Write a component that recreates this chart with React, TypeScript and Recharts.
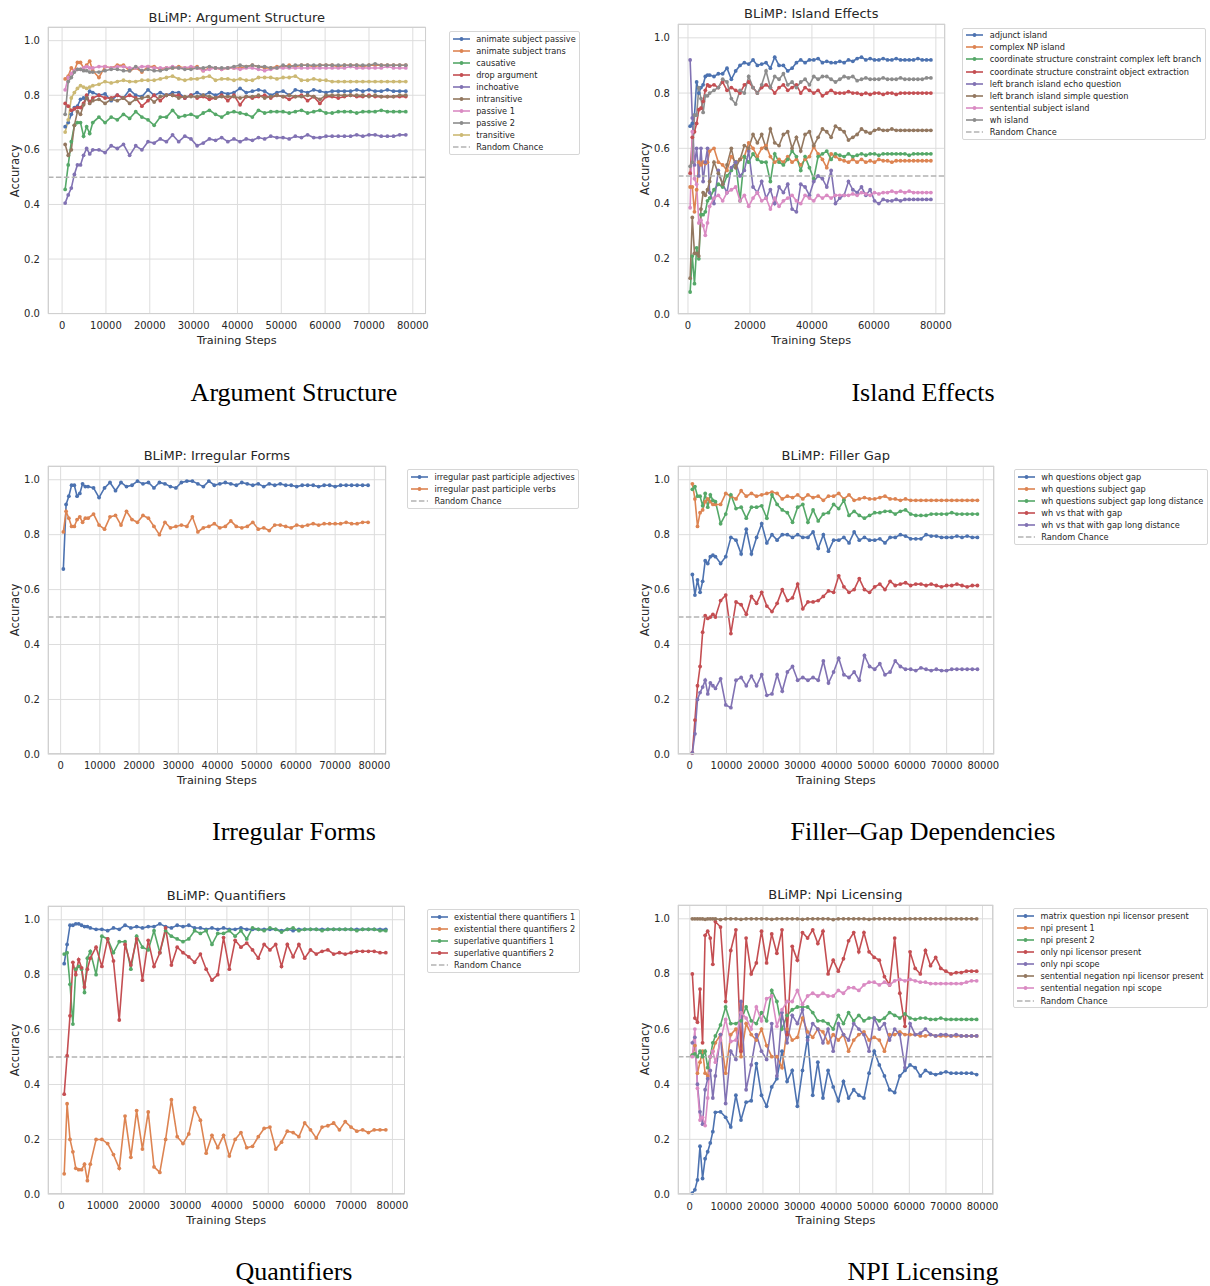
import { LineChart, Line, XAxis, YAxis, CartesianGrid, ReferenceLine } from 'recharts'

// checkpoints (training steps) shared by every panel
const STEPS = [
  700, 1400, 2100, 2800, 3500, 4200, 4900, 5600, 6300, 7000,
  8400, 9800, 11200, 12600, 14000, 15400, 16800, 18200, 19600, 21000,
  22400, 23800, 25200, 26600, 28000, 29400, 30800, 32200, 33600, 35000,
  36400, 37800, 39200, 40600, 42000, 43400, 44800, 46200, 47600, 49000,
  50400, 51800, 53200, 54600, 56000, 57400, 58800, 60200, 61600, 63000,
  64400, 65800, 67200, 68600, 70000, 71400, 72800, 74200, 75600, 77000,
  78400,
]

const Y_TICKS = [0, 0.2, 0.4, 0.6, 0.8, 1.0]
const X_TICKS_10K = [0, 10000, 20000, 30000, 40000, 50000, 60000, 70000, 80000]
const X_TICKS_20K = [0, 20000, 40000, 60000, 80000]

// --- Argument Structure
const animateSubjectPassive = [
  0.685, 0.70, 0.73, 0.755, 0.76, 0.785, 0.79, 0.79, 0.815, 0.81,
  0.80, 0.805, 0.78, 0.80, 0.79, 0.82, 0.80, 0.795, 0.82, 0.80,
  0.81, 0.80, 0.81, 0.81, 0.79, 0.80, 0.81, 0.80, 0.81, 0.80,
  0.81, 0.805, 0.81, 0.825, 0.81, 0.815, 0.82, 0.815, 0.80, 0.81,
  0.815, 0.80, 0.82, 0.815, 0.81, 0.82, 0.815, 0.81, 0.815, 0.815,
  0.815, 0.815, 0.82, 0.815, 0.82, 0.815, 0.815, 0.82, 0.815, 0.815,
  0.815,
]
const animateSubjectTrans = [
  0.86, 0.87, 0.90, 0.89, 0.92, 0.92, 0.90, 0.91, 0.925, 0.89,
  0.865, 0.905, 0.90, 0.91, 0.91, 0.89, 0.90, 0.885, 0.905, 0.905,
  0.895, 0.90, 0.90, 0.905, 0.90, 0.90, 0.905, 0.89, 0.90, 0.90,
  0.895, 0.90, 0.90, 0.90, 0.905, 0.91, 0.905, 0.90, 0.90, 0.905,
  0.905, 0.91, 0.905, 0.91, 0.91, 0.905, 0.91, 0.91, 0.91, 0.905,
  0.91, 0.91, 0.91, 0.905, 0.91, 0.91, 0.91, 0.91, 0.91, 0.91,
  0.91,
]
const causative = [
  0.455, 0.545, 0.63, 0.69, 0.70, 0.70, 0.65, 0.685, 0.66, 0.70,
  0.72, 0.70, 0.72, 0.71, 0.73, 0.715, 0.74, 0.72, 0.71, 0.69,
  0.72, 0.72, 0.745, 0.72, 0.725, 0.73, 0.72, 0.735, 0.745, 0.73,
  0.72, 0.735, 0.74, 0.735, 0.73, 0.72, 0.745, 0.735, 0.74, 0.74,
  0.74, 0.735, 0.74, 0.745, 0.735, 0.74, 0.745, 0.735, 0.735, 0.74,
  0.74, 0.74, 0.735, 0.74, 0.74, 0.74, 0.745, 0.74, 0.74, 0.74,
  0.74,
]
const dropArgument = [
  0.77, 0.76, 0.745, 0.75, 0.755, 0.755, 0.77, 0.80, 0.775, 0.79,
  0.80, 0.79, 0.79, 0.80, 0.79, 0.80, 0.79, 0.76, 0.78, 0.80,
  0.78, 0.80, 0.80, 0.80, 0.79, 0.80, 0.79, 0.795, 0.785, 0.79,
  0.80, 0.78, 0.80, 0.765, 0.795, 0.79, 0.795, 0.80, 0.79, 0.80,
  0.795, 0.785, 0.795, 0.80, 0.78, 0.795, 0.77, 0.795, 0.795, 0.79,
  0.795, 0.80, 0.795, 0.795, 0.80, 0.795, 0.795, 0.795, 0.795, 0.795,
  0.795,
]
const inchoative = [
  0.405, 0.435, 0.46, 0.51, 0.545, 0.545, 0.58, 0.605, 0.585, 0.60,
  0.60, 0.59, 0.615, 0.605, 0.62, 0.58, 0.615, 0.60, 0.63, 0.625,
  0.64, 0.63, 0.655, 0.63, 0.65, 0.64, 0.615, 0.625, 0.64, 0.635,
  0.645, 0.63, 0.64, 0.63, 0.64, 0.635, 0.645, 0.64, 0.65, 0.645,
  0.645, 0.64, 0.65, 0.645, 0.655, 0.645, 0.645, 0.65, 0.65, 0.65,
  0.65, 0.65, 0.655, 0.65, 0.655, 0.655, 0.65, 0.65, 0.65, 0.655,
  0.655,
]
const intransitive = [
  0.62, 0.58, 0.60, 0.69, 0.74, 0.73, 0.765, 0.79, 0.77, 0.78,
  0.785, 0.77, 0.785, 0.78, 0.79, 0.77, 0.785, 0.79, 0.795, 0.775,
  0.795, 0.80, 0.80, 0.79, 0.795, 0.795, 0.795, 0.80, 0.795, 0.79,
  0.795, 0.795, 0.795, 0.79, 0.795, 0.795, 0.80, 0.79, 0.795, 0.80,
  0.795, 0.80, 0.795, 0.795, 0.80, 0.795, 0.785, 0.80, 0.80, 0.80,
  0.80, 0.80, 0.80, 0.80, 0.795, 0.80, 0.795, 0.795, 0.795, 0.80,
  0.80,
]
const passive1 = [
  0.82, 0.865, 0.88, 0.89, 0.895, 0.895, 0.90, 0.905, 0.90, 0.90,
  0.905, 0.905, 0.90, 0.905, 0.905, 0.90, 0.90, 0.905, 0.905, 0.90,
  0.90, 0.90, 0.905, 0.90, 0.90, 0.905, 0.90, 0.89, 0.895, 0.90,
  0.895, 0.90, 0.90, 0.895, 0.90, 0.90, 0.895, 0.89, 0.895, 0.90,
  0.90, 0.90, 0.90, 0.90, 0.90, 0.90, 0.90, 0.90, 0.90, 0.90,
  0.90, 0.905, 0.90, 0.90, 0.90, 0.90, 0.90, 0.905, 0.90, 0.90,
  0.90,
]
const passive2 = [
  0.73, 0.85, 0.865, 0.885, 0.895, 0.895, 0.89, 0.89, 0.885, 0.885,
  0.885, 0.89, 0.895, 0.895, 0.89, 0.89, 0.905, 0.89, 0.895, 0.89,
  0.89, 0.895, 0.90, 0.90, 0.895, 0.895, 0.90, 0.90, 0.905, 0.90,
  0.90, 0.90, 0.905, 0.91, 0.905, 0.91, 0.905, 0.905, 0.90, 0.90,
  0.91, 0.905, 0.91, 0.91, 0.91, 0.91, 0.91, 0.91, 0.91, 0.91,
  0.91, 0.91, 0.91, 0.91, 0.91, 0.915, 0.91, 0.91, 0.91, 0.91,
  0.91,
]
const transitive = [
  0.665, 0.71, 0.79, 0.81, 0.825, 0.835, 0.83, 0.825, 0.83, 0.835,
  0.84, 0.85, 0.845, 0.85, 0.855, 0.85, 0.85, 0.855, 0.855, 0.855,
  0.86, 0.865, 0.87, 0.86, 0.855, 0.86, 0.86, 0.865, 0.87, 0.855,
  0.86, 0.86, 0.855, 0.86, 0.855, 0.855, 0.865, 0.865, 0.865, 0.86,
  0.865, 0.865, 0.87, 0.855, 0.855, 0.86, 0.855, 0.855, 0.85, 0.85,
  0.85, 0.85, 0.85, 0.85, 0.85, 0.85, 0.85, 0.85, 0.85, 0.85,
  0.85,
]

// --- Island Effects
const adjunctIsland = [
  0.68, 0.69, 0.72, 0.84, 0.80, 0.82, 0.83, 0.86, 0.865, 0.865,
  0.86, 0.87, 0.87, 0.89, 0.85, 0.88, 0.90, 0.91, 0.905, 0.92,
  0.90, 0.905, 0.91, 0.89, 0.93, 0.90, 0.90, 0.88, 0.89, 0.91,
  0.92, 0.91, 0.92, 0.92, 0.925, 0.91, 0.915, 0.91, 0.91, 0.915,
  0.91, 0.92, 0.915, 0.925, 0.93, 0.92, 0.925, 0.92, 0.92, 0.925,
  0.92, 0.92, 0.925, 0.92, 0.92, 0.92, 0.92, 0.925, 0.92, 0.92,
  0.92,
]
const complexNpIsland = [
  0.46, 0.46, 0.37, 0.45, 0.55, 0.54, 0.55, 0.545, 0.55, 0.59,
  0.60, 0.55, 0.54, 0.52, 0.57, 0.55, 0.56, 0.57, 0.62, 0.60,
  0.57, 0.60, 0.61, 0.57, 0.55, 0.56, 0.55, 0.57, 0.55, 0.56,
  0.54, 0.56, 0.57, 0.605, 0.58, 0.56, 0.53, 0.58, 0.57, 0.56,
  0.555, 0.55, 0.56, 0.55, 0.56, 0.55, 0.555, 0.55, 0.56, 0.555,
  0.555, 0.55, 0.555, 0.555, 0.555, 0.555, 0.555, 0.555, 0.555, 0.555,
  0.555,
]
const cscComplexLeftBranch = [
  0.08, 0.21, 0.11, 0.24, 0.20, 0.36, 0.36, 0.37, 0.41, 0.42,
  0.45, 0.47, 0.46, 0.50, 0.52, 0.55, 0.41, 0.57, 0.55, 0.58,
  0.56, 0.55, 0.55, 0.48, 0.58, 0.55, 0.54, 0.56, 0.59, 0.57,
  0.52, 0.57, 0.53, 0.49, 0.57, 0.58, 0.59, 0.56, 0.58, 0.575,
  0.57, 0.58, 0.57, 0.575, 0.58, 0.575, 0.58, 0.58, 0.575, 0.58,
  0.58, 0.58, 0.58, 0.58, 0.58, 0.575, 0.58, 0.58, 0.58, 0.58,
  0.58,
]
const cscObjectExtraction = [
  0.51, 0.64, 0.66, 0.69, 0.74, 0.745, 0.77, 0.81, 0.83, 0.825,
  0.83, 0.82, 0.84, 0.81, 0.82, 0.81, 0.80, 0.83, 0.84, 0.82,
  0.80, 0.82, 0.83, 0.82, 0.80, 0.82, 0.83, 0.81, 0.82, 0.83,
  0.80, 0.82, 0.81, 0.80, 0.81, 0.79, 0.80, 0.81, 0.80, 0.80,
  0.80, 0.805, 0.80, 0.80, 0.795, 0.80, 0.795, 0.80, 0.80, 0.795,
  0.80, 0.80, 0.795, 0.80, 0.80, 0.80, 0.80, 0.80, 0.80, 0.80,
  0.80,
]
const leftBranchEcho = [
  0.92, 0.71, 0.54, 0.60, 0.50, 0.60, 0.48, 0.55, 0.60, 0.44,
  0.40, 0.52, 0.47, 0.44, 0.53, 0.55, 0.50, 0.52, 0.59, 0.46,
  0.44, 0.48, 0.42, 0.45, 0.40, 0.46, 0.44, 0.47, 0.38, 0.37,
  0.47, 0.46, 0.43, 0.48, 0.50, 0.49, 0.46, 0.52, 0.40, 0.42,
  0.43, 0.48, 0.45, 0.44, 0.46, 0.43, 0.45, 0.41, 0.40, 0.415,
  0.41, 0.41, 0.415, 0.41, 0.415, 0.415, 0.415, 0.415, 0.415, 0.415,
  0.415,
]
const leftBranchSimple = [
  0.13, 0.35, 0.22, 0.22, 0.21, 0.38, 0.44, 0.43, 0.45, 0.48,
  0.55, 0.51, 0.47, 0.54, 0.60, 0.53, 0.56, 0.61, 0.60, 0.65,
  0.62, 0.65, 0.60, 0.67, 0.62, 0.61, 0.65, 0.66, 0.60, 0.64,
  0.59, 0.65, 0.66, 0.61, 0.64, 0.67, 0.66, 0.64, 0.68, 0.67,
  0.66, 0.63, 0.64, 0.65, 0.67, 0.66, 0.655, 0.665, 0.67, 0.665,
  0.665, 0.67, 0.665, 0.665, 0.665, 0.665, 0.665, 0.665, 0.665, 0.665,
  0.665,
]
const sententialSubjectIsland = [
  0.385, 0.66, 0.49, 0.47, 0.33, 0.34, 0.32, 0.285, 0.33, 0.39,
  0.42, 0.43, 0.41, 0.44, 0.45, 0.46, 0.41, 0.43, 0.39, 0.42,
  0.44, 0.41, 0.42, 0.38, 0.42, 0.39, 0.41, 0.42, 0.43, 0.41,
  0.40, 0.43, 0.42, 0.41, 0.43, 0.42, 0.43, 0.42, 0.43, 0.43,
  0.43, 0.43, 0.435, 0.43, 0.44, 0.435, 0.43, 0.44, 0.435, 0.44,
  0.44, 0.445, 0.44, 0.445, 0.44, 0.445, 0.44, 0.44, 0.44, 0.44,
  0.44,
]
const whIsland = [
  0.535, 0.55, 0.72, 0.72, 0.82, 0.78, 0.73, 0.79, 0.79, 0.80,
  0.81, 0.82, 0.85, 0.84, 0.78, 0.76, 0.81, 0.80, 0.86, 0.82,
  0.80, 0.83, 0.88, 0.82, 0.86, 0.85, 0.87, 0.83, 0.84, 0.82,
  0.84, 0.85, 0.83, 0.86, 0.85, 0.86, 0.86, 0.85, 0.84, 0.85,
  0.86, 0.855, 0.86, 0.845, 0.85, 0.855, 0.85, 0.85, 0.85, 0.855,
  0.85, 0.85, 0.85, 0.855, 0.85, 0.85, 0.85, 0.85, 0.85, 0.855,
  0.855,
]

// --- Irregular Forms
const irregularAdjectives = [
  0.675, 0.91, 0.94, 0.98, 0.98, 0.94, 0.95, 0.985, 0.975, 0.975,
  0.97, 0.935, 0.97, 0.99, 0.96, 0.99, 0.975, 0.98, 0.995, 0.985,
  0.99, 0.97, 0.99, 0.985, 0.975, 0.97, 0.99, 0.995, 0.995, 0.985,
  0.975, 0.995, 0.98, 0.985, 0.99, 0.985, 0.98, 0.99, 0.985, 0.98,
  0.985, 0.975, 0.985, 0.98, 0.985, 0.98, 0.98, 0.975, 0.98, 0.98,
  0.98, 0.975, 0.98, 0.98, 0.975, 0.98, 0.98, 0.98, 0.98, 0.98,
  0.98,
]
const irregularVerbs = [
  0.81, 0.885, 0.86, 0.83, 0.83, 0.855, 0.865, 0.845, 0.86, 0.86,
  0.875, 0.835, 0.82, 0.865, 0.87, 0.835, 0.885, 0.855, 0.845, 0.87,
  0.86, 0.83, 0.80, 0.845, 0.825, 0.83, 0.835, 0.83, 0.865, 0.81,
  0.825, 0.83, 0.84, 0.825, 0.83, 0.85, 0.83, 0.825, 0.83, 0.845,
  0.82, 0.825, 0.815, 0.835, 0.835, 0.83, 0.825, 0.835, 0.83, 0.835,
  0.84, 0.835, 0.84, 0.84, 0.84, 0.84, 0.845, 0.84, 0.84, 0.845,
  0.845,
]

// --- Filler Gap
const whObjectGap = [
  0.655, 0.58, 0.635, 0.59, 0.63, 0.705, 0.695, 0.72, 0.725, 0.72,
  0.695, 0.72, 0.79, 0.78, 0.73, 0.82, 0.73, 0.79, 0.84, 0.77,
  0.80, 0.78, 0.80, 0.80, 0.79, 0.80, 0.79, 0.79, 0.81, 0.75,
  0.80, 0.74, 0.78, 0.78, 0.79, 0.77, 0.81, 0.78, 0.79, 0.78,
  0.78, 0.785, 0.77, 0.79, 0.79, 0.80, 0.795, 0.785, 0.785, 0.785,
  0.80, 0.795, 0.795, 0.79, 0.79, 0.79, 0.795, 0.79, 0.795, 0.79,
  0.79,
]
const whSubjectGap = [
  0.985, 0.93, 0.83, 0.88, 0.89, 0.92, 0.93, 0.92, 0.91, 0.91,
  0.91, 0.95, 0.94, 0.93, 0.96, 0.94, 0.95, 0.94, 0.945, 0.95,
  0.955, 0.95, 0.93, 0.94, 0.935, 0.945, 0.93, 0.945, 0.935, 0.94,
  0.925, 0.94, 0.94, 0.95, 0.93, 0.945, 0.925, 0.93, 0.935, 0.93,
  0.93, 0.935, 0.94, 0.93, 0.93, 0.925, 0.93, 0.925, 0.925, 0.925,
  0.925, 0.925, 0.925, 0.925, 0.925, 0.925, 0.925, 0.925, 0.925, 0.925,
  0.925,
]
const whSubjectGapLong = [
  0.965, 0.975, 0.94, 0.94, 0.905, 0.95, 0.90, 0.945, 0.925, 0.92,
  0.84, 0.875, 0.945, 0.895, 0.90, 0.86, 0.90, 0.90, 0.905, 0.86,
  0.945, 0.91, 0.89, 0.88, 0.845, 0.90, 0.91, 0.845, 0.89, 0.85,
  0.875, 0.88, 0.91, 0.895, 0.925, 0.87, 0.885, 0.87, 0.86, 0.87,
  0.88, 0.88, 0.885, 0.885, 0.875, 0.885, 0.89, 0.875, 0.87, 0.87,
  0.87, 0.875, 0.875, 0.875, 0.875, 0.88, 0.875, 0.875, 0.875, 0.875,
  0.875,
]
const whVsThatGap = [
  0.005, 0.125, 0.25, 0.32, 0.445, 0.505, 0.495, 0.50, 0.51, 0.50,
  0.56, 0.58, 0.44, 0.555, 0.545, 0.51, 0.575, 0.55, 0.59, 0.54,
  0.52, 0.55, 0.60, 0.56, 0.57, 0.62, 0.53, 0.555, 0.555, 0.56,
  0.575, 0.595, 0.59, 0.65, 0.61, 0.59, 0.60, 0.64, 0.60, 0.59,
  0.61, 0.62, 0.60, 0.63, 0.615, 0.62, 0.625, 0.615, 0.62, 0.62,
  0.615, 0.62, 0.615, 0.61, 0.615, 0.615, 0.62, 0.615, 0.61, 0.615,
  0.615,
]
const whVsThatGapLong = [
  0.005, 0.075, 0.20, 0.225, 0.245, 0.27, 0.22, 0.26, 0.25, 0.24,
  0.275, 0.18, 0.17, 0.27, 0.28, 0.25, 0.285, 0.25, 0.29, 0.215,
  0.22, 0.29, 0.23, 0.30, 0.32, 0.27, 0.28, 0.27, 0.28, 0.27,
  0.34, 0.26, 0.30, 0.35, 0.29, 0.28, 0.30, 0.27, 0.36, 0.32,
  0.31, 0.33, 0.29, 0.30, 0.34, 0.32, 0.31, 0.31, 0.305, 0.315,
  0.31, 0.305, 0.31, 0.305, 0.305, 0.31, 0.31, 0.31, 0.31, 0.31,
  0.31,
]

// --- Quantifiers
const existential1 = [
  0.84, 0.91, 0.98, 0.98, 0.985, 0.985, 0.98, 0.975, 0.975, 0.97,
  0.965, 0.965, 0.96, 0.97, 0.965, 0.98, 0.97, 0.975, 0.97, 0.975,
  0.975, 0.985, 0.975, 0.97, 0.98, 0.975, 0.98, 0.97, 0.97, 0.965,
  0.97, 0.965, 0.97, 0.965, 0.965, 0.97, 0.965, 0.965, 0.965, 0.965,
  0.965, 0.965, 0.96, 0.965, 0.96, 0.965, 0.965, 0.965, 0.965, 0.965,
  0.965, 0.965, 0.965, 0.965, 0.965, 0.965, 0.965, 0.965, 0.965, 0.965,
  0.965,
]
const existential2 = [
  0.075, 0.33, 0.20, 0.155, 0.095, 0.09, 0.09, 0.11, 0.05, 0.11,
  0.20, 0.20, 0.185, 0.145, 0.095, 0.285, 0.135, 0.305, 0.165, 0.30,
  0.10, 0.08, 0.20, 0.345, 0.21, 0.185, 0.22, 0.315, 0.27, 0.15,
  0.215, 0.17, 0.215, 0.14, 0.20, 0.225, 0.17, 0.175, 0.21, 0.24,
  0.245, 0.165, 0.19, 0.23, 0.225, 0.21, 0.26, 0.235, 0.205, 0.245,
  0.25, 0.26, 0.235, 0.265, 0.245, 0.23, 0.235, 0.225, 0.235, 0.235,
  0.235,
]
const superlative1 = [
  0.875, 0.88, 0.765, 0.62, 0.82, 0.83, 0.82, 0.735, 0.86, 0.885,
  0.80, 0.94, 0.93, 0.88, 0.92, 0.92, 0.82, 0.94, 0.90, 0.89,
  0.96, 0.88, 0.96, 0.94, 0.93, 0.92, 0.93, 0.96, 0.95, 0.96,
  0.91, 0.95, 0.95, 0.96, 0.94, 0.96, 0.93, 0.97, 0.965, 0.96,
  0.97, 0.965, 0.955, 0.965, 0.97, 0.96, 0.965, 0.965, 0.965, 0.96,
  0.965, 0.965, 0.965, 0.965, 0.965, 0.96, 0.965, 0.965, 0.965, 0.96,
  0.96,
]
const superlative2 = [
  0.365, 0.505, 0.65, 0.845, 0.80, 0.855, 0.825, 0.755, 0.82, 0.86,
  0.90, 0.83, 0.93, 0.85, 0.635, 0.91, 0.835, 0.93, 0.78, 0.925,
  0.83, 0.88, 0.97, 0.835, 0.90, 0.88, 0.865, 0.845, 0.875, 0.82,
  0.78, 0.80, 0.935, 0.82, 0.925, 0.90, 0.915, 0.89, 0.86, 0.91,
  0.89, 0.91, 0.83, 0.91, 0.865, 0.91, 0.86, 0.89, 0.875, 0.885,
  0.89, 0.875, 0.88, 0.875, 0.88, 0.885, 0.885, 0.885, 0.885, 0.88,
  0.88,
]

// --- Npi Licensing
const matrixQuestion = [
  0.005, 0.017, 0.053, 0.175, 0.058, 0.13, 0.155, 0.187, 0.228, 0.298,
  0.30, 0.28, 0.245, 0.36, 0.27, 0.335, 0.34, 0.475, 0.36, 0.32,
  0.39, 0.42, 0.52, 0.41, 0.45, 0.32, 0.45, 0.57, 0.36, 0.48,
  0.35, 0.45, 0.39, 0.34, 0.41, 0.35, 0.38, 0.36, 0.35, 0.44,
  0.52, 0.47, 0.43, 0.38, 0.37, 0.43, 0.45, 0.47, 0.46, 0.43,
  0.45, 0.44, 0.435, 0.44, 0.445, 0.44, 0.44, 0.44, 0.44, 0.44,
  0.435,
]
const npiPresent1 = [
  0.505, 0.54, 0.44, 0.48, 0.52, 0.44, 0.43, 0.50, 0.52, 0.55,
  0.58, 0.44, 0.58, 0.60, 0.50, 0.62, 0.58, 0.56, 0.60, 0.54,
  0.50, 0.50, 0.46, 0.60, 0.56, 0.57, 0.64, 0.59, 0.57, 0.60,
  0.59, 0.55, 0.58, 0.56, 0.58, 0.52, 0.56, 0.58, 0.59, 0.56,
  0.57, 0.56, 0.52, 0.58, 0.58, 0.59, 0.58, 0.58, 0.58, 0.575,
  0.575, 0.58, 0.575, 0.575, 0.575, 0.575, 0.575, 0.575, 0.575, 0.575,
  0.575,
]
const npiPresent2 = [
  0.505, 0.51, 0.50, 0.52, 0.50, 0.52, 0.46, 0.50, 0.55, 0.575,
  0.615, 0.68, 0.62, 0.62, 0.63, 0.68, 0.63, 0.62, 0.66, 0.63,
  0.74, 0.70, 0.60, 0.65, 0.67, 0.68, 0.68, 0.68, 0.66, 0.63,
  0.63, 0.62, 0.60, 0.65, 0.62, 0.66, 0.63, 0.65, 0.63, 0.64,
  0.64, 0.63, 0.64, 0.66, 0.65, 0.64, 0.655, 0.64, 0.635, 0.64,
  0.64, 0.635, 0.635, 0.64, 0.635, 0.635, 0.635, 0.635, 0.635, 0.635,
  0.635,
]
const onlyLicensorPresent = [
  0.80, 0.64, 0.625, 0.745, 0.55, 0.94, 0.955, 0.93, 0.835, 0.99,
  0.97, 0.70, 0.885, 0.96, 0.52, 0.93, 0.80, 0.84, 0.955, 0.84,
  0.945, 0.875, 0.96, 0.58, 0.90, 0.85, 0.95, 0.93, 0.96, 0.91,
  0.955, 0.80, 0.85, 0.81, 0.855, 0.92, 0.95, 0.88, 0.95, 0.88,
  0.86, 0.85, 0.79, 0.76, 0.93, 0.73, 0.61, 0.88, 0.82, 0.80,
  0.885, 0.83, 0.86, 0.82, 0.81, 0.80, 0.805, 0.805, 0.81, 0.81,
  0.81,
]
const onlyNpiScope = [
  0.55, 0.57, 0.40, 0.30, 0.255, 0.38, 0.42, 0.45, 0.35, 0.43,
  0.58, 0.33, 0.52, 0.49, 0.70, 0.38, 0.47, 0.58, 0.52, 0.49,
  0.62, 0.43, 0.66, 0.55, 0.65, 0.62, 0.67, 0.56, 0.62, 0.60,
  0.55, 0.60, 0.52, 0.62, 0.58, 0.56, 0.62, 0.60, 0.58, 0.52,
  0.64, 0.60, 0.62, 0.56, 0.60, 0.58, 0.46, 0.62, 0.58, 0.585,
  0.60, 0.58, 0.575, 0.58, 0.58, 0.575, 0.58, 0.575, 0.575, 0.575,
  0.575,
]
const negationLicensorPresent = [
  1.0, 1.0, 1.0, 1.0, 1.0, 0.998, 1.0, 1.0, 1.0, 1.0,
  0.997, 1.0, 1.0, 1.0, 0.998, 1.0, 1.0, 1.0, 1.0, 1.0,
  0.998, 1.0, 1.0, 1.0, 1.0, 1.0, 0.998, 1.0, 1.0, 1.0,
  1.0, 1.0, 0.997, 1.0, 1.0, 1.0, 1.0, 1.0, 1.0, 0.998,
  1.0, 1.0, 1.0, 1.0, 1.0, 0.999, 1.0, 1.0, 1.0, 1.0,
  1.0, 1.0, 1.0, 1.0, 1.0, 1.0, 1.0, 1.0, 1.0, 1.0,
  1.0,
]
const negationNpiScope = [
  0.50, 0.60, 0.385, 0.27, 0.28, 0.25, 0.35, 0.50, 0.52, 0.48,
  0.56, 0.635, 0.555, 0.56, 0.66, 0.64, 0.60, 0.68, 0.63, 0.71,
  0.72, 0.61, 0.67, 0.70, 0.70, 0.74, 0.69, 0.72, 0.73, 0.72,
  0.73, 0.72, 0.72, 0.74, 0.73, 0.75, 0.75, 0.74, 0.76, 0.77,
  0.77, 0.76, 0.77, 0.76, 0.775, 0.78, 0.775, 0.78, 0.775, 0.77,
  0.77, 0.765, 0.765, 0.765, 0.765, 0.765, 0.765, 0.765, 0.77, 0.775,
  0.775,
]

// seaborn "deep"
const COLORS = ['#4C72B0', '#DD8452', '#55A868', '#C44E52', '#8172B3', '#937860', '#DA8BC3', '#8C8C8C', '#CCB974']

const SANS = '"DejaVu Sans", sans-serif'
const TEXT = '#262626'
const GRID = '#dddddd'
const CHANCE = '#b3b3b3'

type Series = { name: string; values: number[] }
type Frame = { l: number; t: number; r: number; b: number }

const panels: { title: string; caption: string; xTicks: number[]; frame: Frame; captionY: number; series: Series[] }[] = [
  {
    title: 'BLiMP: Argument Structure', caption: 'Argument Structure', xTicks: X_TICKS_10K,
    frame: { l: 48, t: 27.3, r: 425.6, b: 314 }, captionY: 393,
    series: [
      { name: 'animate subject passive', values: animateSubjectPassive },
      { name: 'animate subject trans', values: animateSubjectTrans },
      { name: 'causative', values: causative },
      { name: 'drop argument', values: dropArgument },
      { name: 'inchoative', values: inchoative },
      { name: 'intransitive', values: intransitive },
      { name: 'passive 1', values: passive1 },
      { name: 'passive 2', values: passive2 },
      { name: 'transitive', values: transitive },
    ],
  },
  {
    title: 'BLiMP: Island Effects', caption: 'Island Effects', xTicks: X_TICKS_20K,
    frame: { l: 677.8, t: 23.9, r: 944.7, b: 314 }, captionY: 393,
    series: [
      { name: 'adjunct island', values: adjunctIsland },
      { name: 'complex NP island', values: complexNpIsland },
      { name: 'coordinate structure constraint complex left branch', values: cscComplexLeftBranch },
      { name: 'coordinate structure constraint object extraction', values: cscObjectExtraction },
      { name: 'left branch island echo question', values: leftBranchEcho },
      { name: 'left branch island simple question', values: leftBranchSimple },
      { name: 'sentential subject island', values: sententialSubjectIsland },
      { name: 'wh island', values: whIsland },
    ],
  },
  {
    title: 'BLiMP: Irregular Forms', caption: 'Irregular Forms', xTicks: X_TICKS_10K,
    frame: { l: 48, t: 465.6, r: 385.8, b: 754 }, captionY: 832,
    series: [
      { name: 'irregular past participle adjectives', values: irregularAdjectives },
      { name: 'irregular past participle verbs', values: irregularVerbs },
    ],
  },
  {
    title: 'BLiMP: Filler Gap', caption: 'Filler–Gap Dependencies', xTicks: X_TICKS_10K,
    frame: { l: 677.8, t: 465.6, r: 993.8, b: 754 }, captionY: 832,
    series: [
      { name: 'wh questions object gap', values: whObjectGap },
      { name: 'wh questions subject gap', values: whSubjectGap },
      { name: 'wh questions subject gap long distance', values: whSubjectGapLong },
      { name: 'wh vs that with gap', values: whVsThatGap },
      { name: 'wh vs that with gap long distance', values: whVsThatGapLong },
    ],
  },
  {
    title: 'BLiMP: Quantifiers', caption: 'Quantifiers', xTicks: X_TICKS_10K,
    frame: { l: 48, t: 905.6, r: 404.5, b: 1194 }, captionY: 1272,
    series: [
      { name: 'existential there quantifiers 1', values: existential1 },
      { name: 'existential there quantifiers 2', values: existential2 },
      { name: 'superlative quantifiers 1', values: superlative1 },
      { name: 'superlative quantifiers 2', values: superlative2 },
    ],
  },
  {
    title: 'BLiMP: Npi Licensing', caption: 'NPI Licensing', xTicks: X_TICKS_10K,
    frame: { l: 677.8, t: 904.5, r: 993, b: 1194 }, captionY: 1272,
    series: [
      { name: 'matrix question npi licensor present', values: matrixQuestion },
      { name: 'npi present 1', values: npiPresent1 },
      { name: 'npi present 2', values: npiPresent2 },
      { name: 'only npi licensor present', values: onlyLicensorPresent },
      { name: 'only npi scope', values: onlyNpiScope },
      { name: 'sentential negation npi licensor present', values: negationLicensorPresent },
      { name: 'sentential negation npi scope', values: negationNpiScope },
    ],
  },
]

const PAD_L = 45
const PAD_R = 10
const PAD_T = 30
const PAD_B = 45

function LegendBox({ series, left, top }: { series: Series[]; left: number; top: number }) {
  const row = (key: string, label: string, sample: JSX.Element) => (
    <div key={key} style={{ display: 'flex', alignItems: 'center', height: 12.1 }}>
      <svg width={17} height={12} style={{ marginLeft: 3, marginRight: 6.5, flex: 'none' }}>{sample}</svg>
      <span>{label}</span>
    </div>
  )
  return (
    <div style={{
      position: 'absolute', left, top, background: '#fff', border: '0.8px solid #d6d6d6', borderRadius: 2,
      padding: '0.5px 3.5px 0.5px 0', fontFamily: SANS, fontSize: 8.2, color: TEXT, whiteSpace: 'nowrap',
    }}>
      {series.map((s, i) => row(s.name, s.name, (
        <g>
          <line x1={0} x2={17} y1={6} y2={6} stroke={COLORS[i]} strokeWidth={1.6} />
          <circle cx={8.5} cy={6} r={1.9} fill={COLORS[i]} />
        </g>
      )))}
      {row('chance', 'Random Chance', <line x1={0} x2={17} y1={6} y2={6} stroke={CHANCE} strokeWidth={1.5} strokeDasharray="5.5 2.4" />)}
    </div>
  )
}

function Panel({ title, caption, xTicks, frame, captionY, series }: typeof panels[number]) {
  const { l, t, r, b } = frame
  const w = r - l
  const h = b - t
  const rows = STEPS.map((step, i) => {
    const row: Record<string, number> = { step }
    series.forEach((s, k) => { row['s' + k] = s.values[i] })
    return row
  })
  const colCenter = l < 600 ? 294 : 923

  return (
    <>
      <div style={{ position: 'absolute', left: l, top: t - 17.5, width: w, height: 15, lineHeight: '15px', textAlign: 'center', fontFamily: SANS, fontSize: 13, color: TEXT }}>
        {title}
      </div>
      <div style={{ position: 'absolute', left: l - PAD_L, top: t - PAD_T }}>
        <LineChart width={w + PAD_L + PAD_R} height={h + PAD_T + PAD_B} data={rows} margin={{ top: PAD_T, right: PAD_R, left: 0, bottom: 0 }}>
          <CartesianGrid stroke={GRID} strokeWidth={1} />
          <XAxis
            dataKey="step" type="number" domain={[-3215, 82915]} ticks={xTicks} interval={0}
            allowDataOverflow axisLine={false} tickLine={false} tickSize={0} tickMargin={8} height={PAD_B}
            tick={{ fontSize: 10, fill: TEXT, fontFamily: SANS }}
          />
          <YAxis
            type="number" domain={[0, 1.05]} ticks={Y_TICKS} interval={0} allowDataOverflow
            tickFormatter={(v: number) => v.toFixed(1)}
            axisLine={false} tickLine={false} tickSize={0} tickMargin={8} width={PAD_L}
            tick={{ fontSize: 10, fill: TEXT, fontFamily: SANS }}
          />
          {series.map((s, k) => (
            <Line
              key={s.name} type="linear" dataKey={'s' + k} stroke={COLORS[k]} strokeWidth={1.6}
              dot={{ r: 1.9, fill: COLORS[k], stroke: COLORS[k], strokeWidth: 0 }}
              activeDot={false} isAnimationActive={false}
            />
          ))}
          <ReferenceLine y={0.5} stroke={CHANCE} strokeWidth={1.5} strokeDasharray="5.5 2.4" />
        </LineChart>
      </div>
      <div style={{ position: 'absolute', left: l, top: t, width: w, height: h, boxSizing: 'border-box', border: '1.25px solid #d0d0d0', pointerEvents: 'none' }} />
      <div style={{ position: 'absolute', left: l, top: b + 19.5, width: w, lineHeight: '13px', textAlign: 'center', fontFamily: SANS, fontSize: 11.3, color: TEXT }}>
        Training Steps
      </div>
      <div style={{
        position: 'absolute', left: l - 33 - 50, top: (t + b) / 2 - 7, width: 100, lineHeight: '14px', textAlign: 'center',
        transform: 'rotate(-90deg)', fontFamily: SANS, fontSize: 11.5, color: TEXT,
      }}>
        Accuracy
      </div>
      <LegendBox series={series} left={r + 0.05 * w + 4.2} top={t + 3.8} />
      <div style={{ position: 'absolute', left: colCenter - 250, top: captionY - 16, width: 500, lineHeight: '32px', textAlign: 'center', fontFamily: '"Liberation Serif", "Times New Roman", serif', fontSize: 26, color: '#000' }}>
        {caption}
      </div>
    </>
  )
}

export default function App() {
  return (
    <div style={{ position: 'absolute', left: 0, top: 0, width: 1210, height: 1286, background: '#fff', overflow: 'hidden' }}>
      {panels.map(p => <Panel key={p.title} {...p} />)}
    </div>
  )
}
